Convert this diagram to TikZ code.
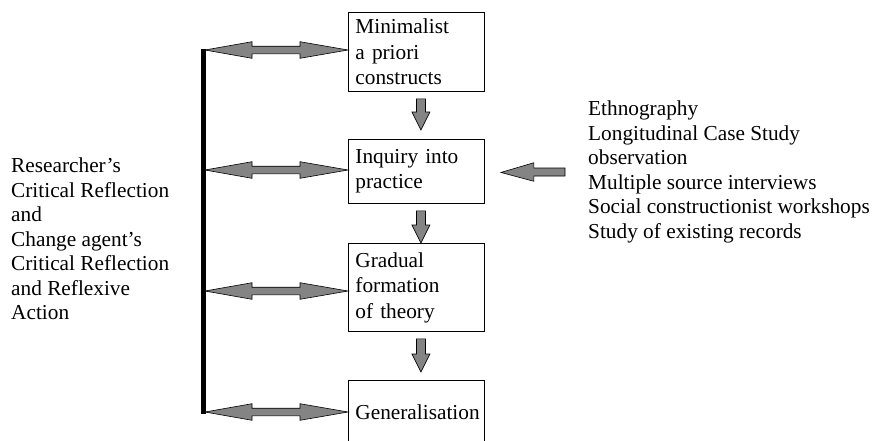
\documentclass[tikz,border=0pt]{standalone}
\usepackage{fontspec}
\setmainfont{Liberation Serif}
\usetikzlibrary{calc}
\definecolor{arrgray}{RGB}{132,132,132}
\tikzset{
  stagebox/.style={draw, line width=0.9pt, anchor=north west, minimum width=136pt,
    text width=122pt, inner xsep=7pt, inner ysep=0pt, align=left,
    font=\fontsize{21.3}{25.5}\selectfont},
  plaintext/.style={inner sep=0pt, align=left, font=\fontsize{21.3}{24.5}\selectfont},
  arrowbody/.style={draw=black, line width=0.6pt, fill=arrgray, line join=miter},
}
\newcommand\dblarr[2]{%
  \path[arrowbody] let \p1=(#1), \p2=(#2) in
    (\x1,\y1) -- (\x1+47pt,\y1+8.3pt) -- (\x1+47pt,\y1+3.8pt)
    -- (\x2-48pt,\y2+3.8pt) -- (\x2-48pt,\y2+8.3pt) -- (\x2,\y2)
    -- (\x2-48pt,\y2-8.3pt) -- (\x2-48pt,\y2-3.8pt)
    -- (\x1+47pt,\y1-3.8pt) -- (\x1+47pt,\y1-8.3pt) -- cycle;}
\newcommand\downarr[2]{%
  \path[arrowbody] let \p1=(#1), \p2=(#2) in
    (\x1-4.5pt,\y1) -- (\x1+4.5pt,\y1) -- (\x1+4.5pt,\y2+18pt)
    -- (\x1+9pt,\y2+18pt) -- (\x2,\y2) -- (\x1-9pt,\y2+18pt)
    -- (\x1-4.5pt,\y2+18pt) -- cycle;}
\newcommand\leftarr[2]{%
  \path[arrowbody] let \p1=(#1), \p2=(#2) in
    (\x1,\y1+4pt) -- (\x2+33pt,\y1+4pt) -- (\x2+33pt,\y1+9.3pt)
    -- (\x2,\y2) -- (\x2+33pt,\y1-9.3pt) -- (\x2+33pt,\y1-4pt)
    -- (\x1,\y1-4pt) -- cycle;}
\begin{document}
\begin{tikzpicture}[x=1pt,y=-1pt]
\fill[white] (0,0) rectangle (884,440);
\clip (0,0) rectangle (884,440);

% stage boxes
\node[stagebox, minimum height=79pt] (mini) at (348,12) {Minimalist\\a priori\\constructs};
\node[stagebox, minimum height=64pt] (inq) at (348,139) {Inquiry into\\practice};
\node[stagebox, minimum height=88pt] (grad) at (348,243) {Gradual\\formation\\of theory};
\node[stagebox, minimum height=64pt] (gen) at (348,380) {Generalisation};

% side texts
\node[plaintext, anchor=west] (refl) at (11,239)
  {Researcher’s\\Critical Reflection\\and\\Change agent’s\\Critical Reflection\\and Reflexive\\Action};
\node[plaintext, anchor=west] (meth) at (588,172)
  {Ethnography\\Longitudinal Case Study\\observation\\Multiple source interviews\\Social constructionist workshops\\Study of existing records};

% vertical bar
\coordinate (bartop) at (203.5,49);
\coordinate (barbot) at (203.5,414);
\draw[line width=4.5pt] (bartop) -- (barbot);

% bar-to-box double arrows
\coordinate (a1) at (205,50);
\coordinate (a2) at (205,170);
\coordinate (a3) at (205,291);
\coordinate (a4) at (205,412);
\dblarr{a1}{a1 -| mini.west}
\dblarr{a2}{a2 -| inq.west}
\dblarr{a3}{a3 -| grad.west}
\dblarr{a4}{a4 -| gen.west}

% down arrows between boxes
\coordinate (d1s) at ($(mini.south)+(4.5,7)$);
\coordinate (d1e) at ($(inq.north)+(4.5,-9)$);
\coordinate (d2s) at ($(inq.south)+(4.5,7)$);
\coordinate (d2e) at ($(grad.north)+(4.5,0)$);
\coordinate (d3s) at ($(grad.south)+(4.5,7)$);
\coordinate (d3e) at ($(gen.north)+(4.5,-8)$);
\downarr{d1s}{d1e}
\downarr{d2s}{d2e}
\downarr{d3s}{d3e}

% methods arrow
\coordinate (mtail) at ($(meth.west)+(-23,0)$);
\coordinate (mtip) at ($(inq.east)+(16,1)$);
\leftarr{mtail}{mtip}
\end{tikzpicture}
\end{document}
